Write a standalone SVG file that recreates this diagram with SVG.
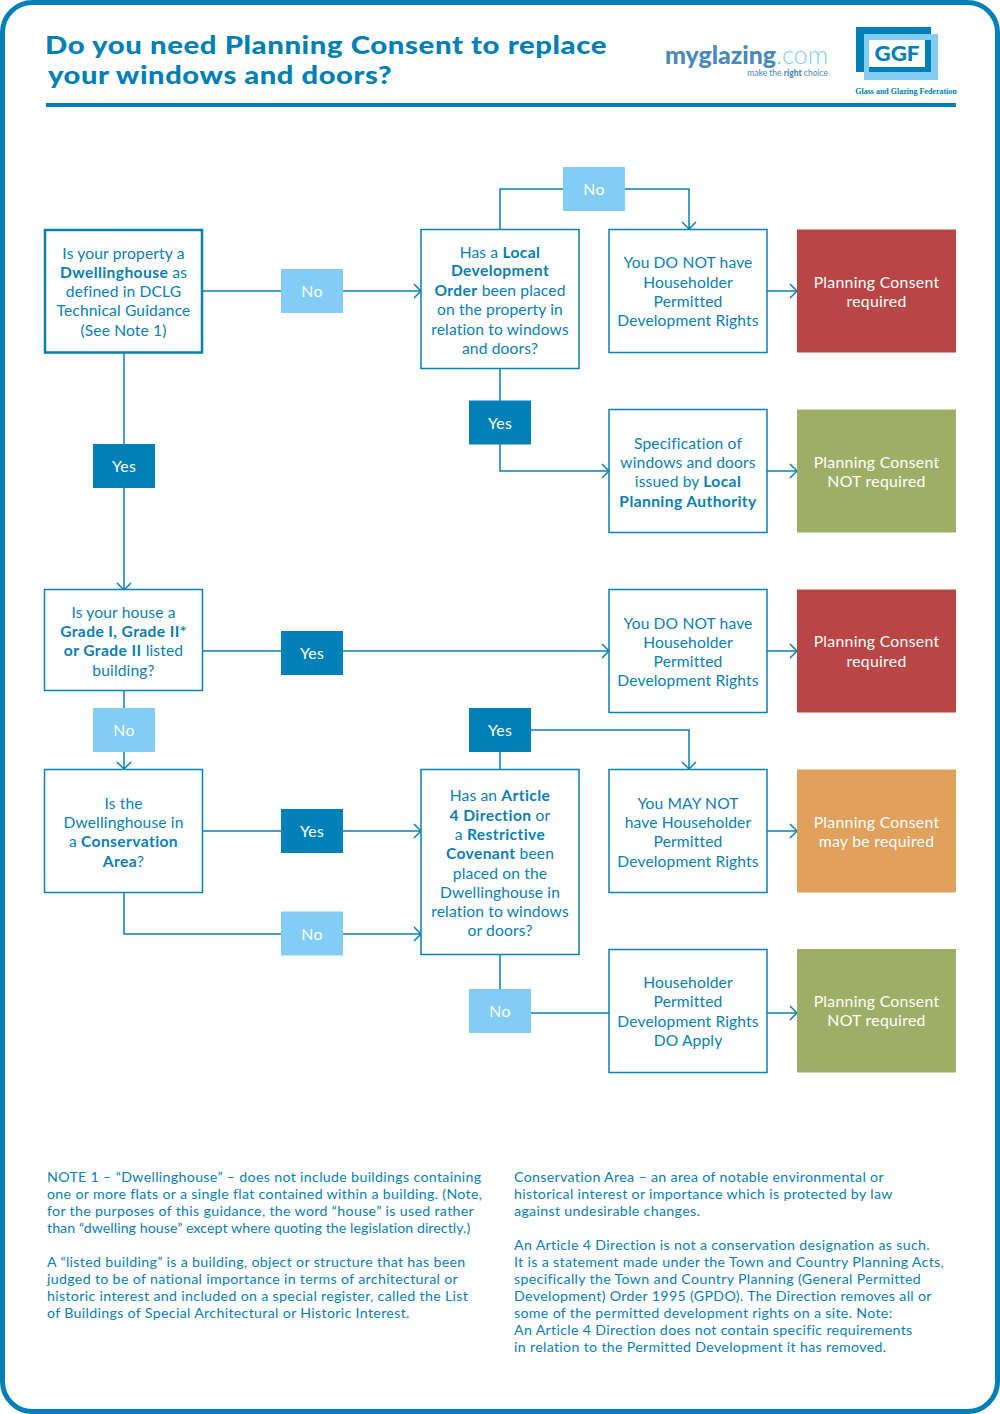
<svg xmlns="http://www.w3.org/2000/svg" width="1000" height="1414" viewBox="0 0 1000 1414">
<style>
text{font-family:"Lato","Open Sans","Liberation Sans",sans-serif;}
.t{font-size:15.6px;fill:#0a80b5;text-anchor:middle;letter-spacing:.14px;}
.b{font-weight:700;letter-spacing:.4px;}
.w{font-size:15.8px;fill:#fff;text-anchor:middle;letter-spacing:.28px;}
.n{font-size:14.2px;fill:#0a80b5;letter-spacing:.33px;}
.c{fill:none;stroke:#0a80b5;stroke-width:1.5;}
.box{fill:#fff;stroke:#0a80b5;stroke-width:1.5;}
.dark{fill:#0080b6;}
.light{fill:#81cdf6;}
</style>
<defs>
<marker id="a" markerUnits="userSpaceOnUse" markerWidth="14" markerHeight="16" refX="9.500" refY="8" orient="auto">
<path d="M2.500 1 L9.500 8 L2.500 15" fill="none" stroke="#0a80b5" stroke-width="1.5"/>
</marker>
</defs>
<rect width="1000" height="1414" fill="#fff"/>
<rect id="frame" x="2.500" y="2.500" width="995" height="1409" rx="30" fill="#fff" stroke="#0080b6" stroke-width="5"/>
<g id="header">
<text x="45" y="53.500" font-size="25.400" fill="#0080b6" style="font-weight:900;letter-spacing:.5px" textLength="562" lengthAdjust="spacingAndGlyphs">Do you need Planning Consent to replace</text>
<text x="48" y="84" font-size="25.400" fill="#0080b6" style="font-weight:900;letter-spacing:.5px" textLength="344" lengthAdjust="spacingAndGlyphs">your windows and doors?</text>
<rect x="46" y="103" width="910" height="4" fill="#0080b6"/>
</g>
<g id="logo-myglazing">
<text x="665" y="63.500" font-size="25" fill="#4a88bd" style="font-weight:900" textLength="111" lengthAdjust="spacingAndGlyphs">myglazing</text>
<text x="776" y="63.500" font-size="25" fill="#81cdf6" style="font-weight:300" textLength="52" lengthAdjust="spacingAndGlyphs">.com</text>
<text x="828" y="76" font-size="8.500" fill="#4a88bd" text-anchor="end">make the <tspan style="font-weight:900">right</tspan> choice</text>
</g>
<g id="logo-ggf">
<rect x="856" y="27" width="75" height="45" fill="#0080b6"/>
<rect x="864" y="34" width="74" height="46" fill="#81cdf6"/>
<rect x="869" y="40" width="56" height="27" fill="#fff"/>
<path d="M925 40H931V72H869V67H925Z" fill="#0080b6"/>
<text x="897" y="61" font-size="21" fill="#0080b6" text-anchor="middle" style="font-weight:900" textLength="45" lengthAdjust="spacingAndGlyphs">GGF</text>
<text x="906" y="94" font-size="8" fill="#0080b6" text-anchor="middle" style="font-family:'Liberation Serif',serif;font-weight:700">Glass and Glazing Federation</text>
</g>
<g id="connectors">
<path class="c" d="M202 291H421" marker-end="url(#a)"/>
<path class="c" d="M500 229V189H689V229" marker-end="url(#a)"/>
<path class="c" d="M767 291H797" marker-end="url(#a)"/>
<path class="c" d="M500 369V471H609" marker-end="url(#a)"/>
<path class="c" d="M767 471H797" marker-end="url(#a)"/>
<path class="c" d="M124 353V590" marker-end="url(#a)"/>
<path class="c" d="M203 651H609" marker-end="url(#a)"/>
<path class="c" d="M767 651H797" marker-end="url(#a)"/>
<path class="c" d="M124 691V769" marker-end="url(#a)"/>
<path class="c" d="M203 831H421" marker-end="url(#a)"/>
<path class="c" d="M124 893V934H421" marker-end="url(#a)"/>
<path class="c" d="M500 769V730H689V769" marker-end="url(#a)"/>
<path class="c" d="M767 831H797" marker-end="url(#a)"/>
<path class="c" d="M500 955V1013H609"/>
<path class="c" d="M767 1013H797" marker-end="url(#a)"/>
</g>
<g id="q1"><rect class="box" style="stroke-width:2.5" x="45" y="230" width="157" height="122.500"/>
<text class="t"><tspan x="123.500" y="259">Is your property a</tspan><tspan x="123.500" y="278"><tspan class="b">Dwellinghouse</tspan> as</tspan><tspan x="123.500" y="297">defined in DCLG</tspan><tspan x="123.500" y="316">Technical Guidance</tspan><tspan x="123.500" y="336">(See Note 1)</tspan></text></g>
<g id="q2"><rect class="box" x="421" y="229.500" width="158" height="139"/>
<text class="t"><tspan x="500" y="258">Has a <tspan class="b">Local</tspan></tspan><tspan x="500" y="276"><tspan class="b">Development</tspan></tspan><tspan x="500" y="296"><tspan class="b">Order</tspan> been placed</tspan><tspan x="500" y="315">on the property in</tspan><tspan x="500" y="335">relation to windows</tspan><tspan x="500" y="354">and doors?</tspan></text></g>
<g id="r1"><rect class="box" x="609" y="229.500" width="158" height="123"/>
<text class="t"><tspan x="688" y="268">You DO NOT have</tspan><tspan x="688" y="288">Householder</tspan><tspan x="688" y="307">Permitted</tspan><tspan x="688" y="326">Development Rights</tspan></text></g>
<g id="o1"><rect x="797" y="229.500" width="159" height="123" fill="#b94644"/>
<text class="w"><tspan x="876.500" y="288">Planning Consent</tspan><tspan x="876.500" y="307">required</tspan></text></g>
<g id="r2"><rect class="box" x="609" y="409.500" width="158" height="123"/>
<text class="t"><tspan x="688" y="449">Specification of</tspan><tspan x="688" y="468">windows and doors</tspan><tspan x="688" y="487">issued by <tspan class="b">Local</tspan></tspan><tspan x="688" y="507"><tspan class="b">Planning Authority</tspan></tspan></text></g>
<g id="o2"><rect x="797" y="409.500" width="159" height="123" fill="#9fae66"/>
<text class="w"><tspan x="876.500" y="468">Planning Consent</tspan><tspan x="876.500" y="487">NOT required</tspan></text></g>
<g id="q3"><rect class="box" x="44.500" y="589.500" width="158" height="101"/>
<text class="t"><tspan x="123.500" y="618">Is your house a</tspan><tspan x="123.500" y="637"><tspan class="b">Grade I, Grade II*</tspan></tspan><tspan x="123.500" y="656"><tspan class="b">or Grade II</tspan> listed</tspan><tspan x="123.500" y="676">building?</tspan></text></g>
<g id="r3"><rect class="box" x="609" y="589.500" width="158" height="123"/>
<text class="t"><tspan x="688" y="629">You DO NOT have</tspan><tspan x="688" y="648">Householder</tspan><tspan x="688" y="667">Permitted</tspan><tspan x="688" y="686">Development Rights</tspan></text></g>
<g id="o3"><rect x="797" y="589.500" width="159" height="123" fill="#b94644"/>
<text class="w"><tspan x="876.500" y="647">Planning Consent</tspan><tspan x="876.500" y="667">required</tspan></text></g>
<g id="q4"><rect class="box" x="44.500" y="769.500" width="158" height="123"/>
<text class="t"><tspan x="123.500" y="809">Is the</tspan><tspan x="123.500" y="828">Dwellinghouse in</tspan><tspan x="123.500" y="847">a <tspan class="b">Conservation</tspan></tspan><tspan x="123.500" y="867"><tspan class="b">Area</tspan>?</tspan></text></g>
<g id="q5"><rect class="box" x="421" y="769.500" width="158" height="185"/>
<text class="t"><tspan x="500" y="801">Has an <tspan class="b">Article</tspan></tspan><tspan x="500" y="821"><tspan class="b">4 Direction</tspan> or</tspan><tspan x="500" y="840">a <tspan class="b">Restrictive</tspan></tspan><tspan x="500" y="859"><tspan class="b">Covenant</tspan> been</tspan><tspan x="500" y="879">placed on the</tspan><tspan x="500" y="898">Dwellinghouse in</tspan><tspan x="500" y="917">relation to windows</tspan><tspan x="500" y="936">or doors?</tspan></text></g>
<g id="r4"><rect class="box" x="609" y="769.500" width="158" height="123"/>
<text class="t"><tspan x="688" y="809">You MAY NOT</tspan><tspan x="688" y="828">have Householder</tspan><tspan x="688" y="847">Permitted</tspan><tspan x="688" y="867">Development Rights</tspan></text></g>
<g id="o4"><rect x="797" y="769.500" width="159" height="123" fill="#e1a05c"/>
<text class="w"><tspan x="876.500" y="828">Planning Consent</tspan><tspan x="876.500" y="847">may be required</tspan></text></g>
<g id="r5"><rect class="box" x="609" y="949.500" width="158" height="123"/>
<text class="t"><tspan x="688" y="988">Householder</tspan><tspan x="688" y="1007">Permitted</tspan><tspan x="688" y="1027">Development Rights</tspan><tspan x="688" y="1046">DO Apply</tspan></text></g>
<g id="o5"><rect x="797" y="949" width="159" height="123.500" fill="#9fae66"/>
<text class="w"><tspan x="876.500" y="1007">Planning Consent</tspan><tspan x="876.500" y="1026">NOT required</tspan></text></g>
<g id="labels">
<g id="l1"><rect class="light" x="281" y="269" width="62" height="44"/><text class="w" x="312" y="297">No</text></g>
<g id="l2"><rect class="light" x="563" y="167" width="62" height="44"/><text class="w" x="594" y="195">No</text></g>
<g id="l3"><rect class="dark" x="469" y="400.500" width="62" height="44"/><text class="w" x="500" y="429">Yes</text></g>
<g id="l4"><rect class="dark" x="93" y="444" width="62" height="44"/><text class="w" x="124" y="472">Yes</text></g>
<g id="l5"><rect class="dark" x="281" y="631" width="62" height="44"/><text class="w" x="312" y="659">Yes</text></g>
<g id="l6"><rect class="light" x="93" y="708" width="62" height="44"/><text class="w" x="124" y="736">No</text></g>
<g id="l7"><rect class="dark" x="469" y="708" width="62" height="44"/><text class="w" x="500" y="736">Yes</text></g>
<g id="l8"><rect class="dark" x="281" y="809" width="62" height="44"/><text class="w" x="312" y="837">Yes</text></g>
<g id="l9"><rect class="light" x="281" y="911.500" width="62" height="44"/><text class="w" x="312" y="940">No</text></g>
<g id="l10"><rect class="light" x="469" y="989" width="62" height="44"/><text class="w" x="500" y="1017">No</text></g>
</g>
<g id="notes">
<text class="n"><tspan x="47" y="1182">NOTE 1 – “Dwellinghouse” – does not include buildings containing</tspan><tspan x="47" y="1199">one or more flats or a single flat contained within a building. (Note,</tspan><tspan x="47" y="1216">for the purposes of this guidance, the word “house” is used rather</tspan><tspan x="47" y="1233" style="letter-spacing:.06px">than “dwelling house” except where quoting the legislation directly.)</tspan><tspan x="47" y="1267">A “listed building” is a building, object or structure that has been</tspan><tspan x="47" y="1284">judged to be of national importance in terms of architectural or</tspan><tspan x="47" y="1301">historic interest and included on a special register, called the List</tspan><tspan x="47" y="1318">of Buildings of Special Architectural or Historic Interest.</tspan></text>
<text class="n"><tspan x="514" y="1182">Conservation Area – an area of notable environmental or</tspan><tspan x="514" y="1199">historical interest or importance which is protected by law</tspan><tspan x="514" y="1216">against undesirable changes.</tspan><tspan x="514" y="1250">An Article 4 Direction is not a conservation designation as such.</tspan><tspan x="514" y="1267">It is a statement made under the Town and Country Planning Acts,</tspan><tspan x="514" y="1284">specifically the Town and Country Planning (General Permitted</tspan><tspan x="514" y="1301">Development) Order 1995 (GPDO). The Direction removes all or</tspan><tspan x="514" y="1318">some of the permitted development rights on a site. Note:</tspan><tspan x="514" y="1335">An Article 4 Direction does not contain specific requirements</tspan><tspan x="514" y="1352">in relation to the Permitted Development it has removed.</tspan></text>
</g>
</svg>
